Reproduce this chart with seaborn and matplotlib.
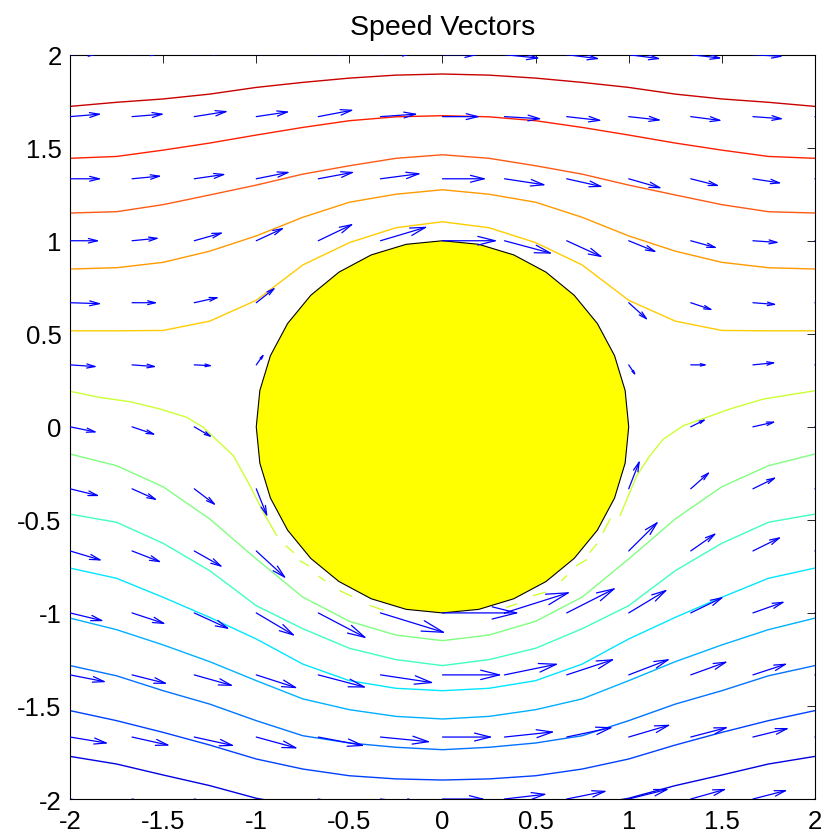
import numpy as np
import pandas as pd
import matplotlib
matplotlib.use("Agg")
import matplotlib.pyplot as plt
import seaborn as sns

nan = np.nan

# ---- streamlines, y read at x = -2 ... 2 (step 0.25) ----
line_x = [-2, -1.75, -1.5, -1.25, -1, -0.75, -0.5, -0.25, 0,
          0.25, 0.5, 0.75, 1, 1.25, 1.5, 1.75, 2]
line_1 = [1.722, 1.744, 1.762, 1.788, 1.824, 1.851, 1.874, 1.890, 1.896,
          1.890, 1.874, 1.851, 1.824, 1.788, 1.762, 1.744, 1.722]
line_2 = [1.443, 1.453, 1.487, 1.525, 1.568, 1.609, 1.645, 1.666, 1.672,
          1.666, 1.645, 1.609, 1.568, 1.525, 1.487, 1.453, 1.443]
line_3 = [1.149, 1.156, 1.194, 1.246, 1.299, 1.358, 1.403, 1.443, 1.462,
          1.443, 1.403, 1.358, 1.299, 1.246, 1.194, 1.156, 1.149]
line_4 = [0.848, 0.855, 0.884, 0.944, 1.026, 1.126, 1.207, 1.250, 1.274,
          1.250, 1.207, 1.126, 1.026, 0.944, 0.884, 0.855, 0.848]
line_5 = [0.516, 0.516, 0.518, 0.568, 0.680, 0.870, 0.990, 1.070, 1.102,
          1.070, 0.990, 0.870, 0.680, 0.568, 0.518, 0.516, 0.516]
line_7 = [-0.146, -0.209, -0.322, -0.495, -0.710, -0.915, -1.045, -1.119, -1.149,
          -1.119, -1.045, -0.915, -0.710, -0.495, -0.322, -0.209, -0.146]
line_8 = [-0.469, -0.513, -0.626, -0.773, -0.961, -1.085, -1.190, -1.251, -1.283,
          -1.251, -1.190, -1.085, -0.961, -0.773, -0.626, -0.513, -0.469]
line_9 = [-0.759, -0.814, -0.916, -1.024, -1.140, -1.275, -1.364, -1.405, -1.418,
          -1.405, -1.364, -1.275, -1.140, -1.024, -0.916, -0.814, -0.759]
line_10 = [-1.028, -1.090, -1.172, -1.262, -1.364, -1.462, -1.520, -1.556, -1.570,
           -1.556, -1.520, -1.462, -1.364, -1.262, -1.172, -1.090, -1.028]
line_11 = [-1.283, -1.338, -1.418, -1.490, -1.579, -1.660, -1.699, -1.722, -1.735,
           -1.722, -1.699, -1.660, -1.579, -1.490, -1.418, -1.338, -1.283]
line_12 = [-1.525, -1.579, -1.642, -1.710, -1.785, -1.839, -1.875, -1.892, -1.898,
           -1.892, -1.875, -1.839, -1.785, -1.710, -1.642, -1.579, -1.525]
line_13 = [-1.771, -1.812, -1.871, -1.928, -1.996, -2.04, -2.08, -2.10, -2.11,
           -2.10, -2.08, -2.04, -1.996, -1.928, -1.871, -1.812, -1.771]

# the streamline that wraps under the cylinder (broken near the body)
line_6_x = [-2.0, -1.839, -1.678, -1.517, -1.373, -1.284, -1.123, -1.034, -0.962, -0.890, nan,
            -0.84, -0.80, nan, -0.765, -0.720, nan, -0.664, -0.631, nan, -0.550, -0.487, nan,
            -0.389, -0.318, nan, 0.345, 0.398, nan, 0.488, 0.550, nan, 0.640, 0.667, nan,
            0.720, 0.774, nan, 0.792, 0.828, nan, 0.863, 0.900, nan,
            0.953, 1.043, 1.114, 1.186, 1.293, 1.544, 1.722, 2.0]
line_6_y = [0.191, 0.158, 0.135, 0.096, 0.051, -0.003, -0.155, -0.316, -0.460, -0.585, nan,
            -0.640, -0.675, nan, -0.720, -0.746, nan, -0.803, -0.827, nan, -0.881, -0.911, nan,
            -0.961, -0.984, nan, -0.970, -0.952, nan, -0.907, -0.889, nan, -0.827, -0.800, nan,
            -0.746, -0.714, nan, -0.674, -0.630, nan, -0.567, -0.495, nan,
            -0.478, -0.263, -0.155, -0.066, 0.006, 0.096, 0.149, 0.194]

line_colors = ["#c80000", "#ff1e00", "#ff5a14", "#ff9900", "#ffcc00", "#ccff33",
               "#80ff80", "#40ffbf", "#00e6ff", "#00b0ff", "#0073ff", "#0040ff", "#0000e0"]

# ---- speed vectors on a 13 x 13 grid (rows from y = 2 down to y = -2) ----
arrow_x = [-2, -1.667, -1.333, -1, -0.667, -0.333, 0, 0.333, 0.667, 1, 1.333, 1.667, 2]
arrow_y = [2, 1.667, 1.333, 1, 0.667, 0.333, 0, -0.333, -0.667, -1, -1.333, -1.667, -2]
arrow_u = [
    [0.145, 0.145, 0.150, 0.155, 0.165, 0.175, 0.180, 0.178, 0.165, 0.160, 0.155, 0.150, 0.145],
    [0.157, 0.161, 0.170, 0.167, 0.179, 0.188, 0.190, 0.188, 0.177, 0.163, 0.156, 0.152, 0.157],
    [0.157, 0.147, 0.158, 0.170, 0.183, 0.206, 0.224, 0.211, 0.183, 0.167, 0.143, 0.142, 0.157],
    [0.147, 0.134, 0.145, 0.140, 0.179, 0.242, 0.283, 0.246, 0.183, 0.140, 0.131, 0.129, 0.147],
    [0.157, 0.125, 0.122, 0.095, nan, nan, nan, nan, nan, 0.095, 0.108, 0.116, 0.157],
    [0.134, 0.120, 0.086, 0.036, nan, nan, nan, nan, nan, 0.032, 0.077, 0.111, 0.134],
    [0.134, 0.116, 0.086, nan, nan, nan, nan, nan, nan, nan, 0.072, 0.111, 0.134],
    [0.147, 0.125, 0.108, 0.056, nan, nan, nan, nan, nan, 0.056, 0.095, 0.116, 0.147],
    [0.161, 0.147, 0.143, 0.152, nan, nan, nan, nan, nan, 0.152, 0.129, 0.142, 0.161],
    [0.170, 0.170, 0.179, 0.199, 0.250, 0.338, 0.398, 0.342, 0.254, 0.199, 0.167, 0.161, 0.170],
    [0.183, 0.179, 0.199, 0.211, 0.247, 0.274, 0.306, 0.278, 0.246, 0.211, 0.188, 0.174, 0.183],
    [0.194, 0.192, 0.205, 0.212, 0.237, 0.257, 0.257, 0.257, 0.237, 0.214, 0.190, 0.183, 0.194],
    [0.190, 0.190, 0.200, 0.205, 0.205, 0.216, 0.216, 0.216, 0.205, 0.205, 0.181, 0.175, 0.190],
]
arrow_v = [
    [0.005, 0.010, 0.015, 0.018, 0.018, 0.010, 0.000, -0.018, -0.021, -0.021, -0.018, -0.009, -0.005],
    [0.013, 0.013, 0.027, 0.025, 0.034, 0.013, 0.000, -0.011, -0.020, -0.018, -0.020, -0.011, -0.013],
    [0.000, 0.014, 0.023, 0.034, 0.034, 0.027, 0.000, -0.032, -0.041, -0.048, -0.036, -0.022, 0.000],
    [0.000, 0.013, 0.041, 0.065, 0.086, 0.072, 0.000, -0.066, -0.084, -0.057, -0.036, -0.009, 0.000],
    [-0.005, 0.000, 0.027, 0.075, nan, nan, nan, nan, nan, -0.086, -0.036, -0.009, 0.005],
    [-0.009, -0.009, -0.004, 0.050, nan, nan, nan, nan, nan, -0.048, 0.000, 0.011, 0.009],
    [-0.027, -0.039, -0.050, nan, nan, nan, nan, nan, nan, nan, 0.036, 0.025, 0.027],
    [-0.036, -0.056, -0.082, -0.140, nan, nan, nan, nan, nan, 0.143, 0.084, 0.057, 0.036],
    [-0.048, -0.057, -0.081, -0.140, nan, nan, nan, nan, nan, 0.151, 0.090, 0.070, 0.048],
    [-0.041, -0.056, -0.082, -0.118, -0.131, -0.104, 0.000, 0.108, 0.129, 0.120, 0.081, 0.057, 0.041],
    [-0.036, -0.045, -0.056, -0.068, -0.065, -0.041, 0.000, 0.057, 0.081, 0.081, 0.068, 0.057, 0.036],
    [-0.032, -0.043, -0.045, -0.058, -0.045, -0.025, 0.000, 0.027, 0.050, 0.063, 0.050, 0.045, 0.032],
    [-0.032, -0.040, -0.045, -0.050, -0.041, -0.025, 0.000, 0.025, 0.041, 0.051, 0.051, 0.045, 0.032],
]

cylinder_radius = 1.0
tick_values = [-2, -1.5, -1, -0.5, 0, 0.5, 1, 1.5, 2]
tick_labels = ["-2", "-1.5", "-1", "-0.5", "0", "0.5", "1", "1.5", "2"]

# ---- long-form table for seaborn ----
rows = []
seg = 0
full_lines = [line_1, line_2, line_3, line_4, line_5, None, line_7, line_8,
              line_9, line_10, line_11, line_12, line_13]
for k, ys in enumerate(full_lines):
    name = f"L{k + 1}"
    if ys is None:
        for xv, yv in zip(line_6_x, line_6_y):
            if np.isnan(xv):
                seg += 1
                continue
            rows.append((xv, yv, name, seg))
    else:
        for xv, yv in zip(line_x, ys):
            rows.append((xv, yv, name, seg))
    seg += 1
df = pd.DataFrame(rows, columns=["x", "y", "level", "seg"])
palette = {f"L{k + 1}": c for k, c in enumerate(line_colors)}

sns.set_theme(style="white")
plt.rcParams["font.family"] = ["Liberation Sans", "DejaVu Sans"]

fig = plt.figure(figsize=(8.24, 8.37), dpi=100)
ax = fig.add_axes([0.085, 0.0442, 0.904, 0.8893])

sns.lineplot(data=df, x="x", y="y", hue="level", units="seg", estimator=None,
             sort=False, palette=palette, legend=False, linewidth=1.0, ax=ax, zorder=2)

# cylinder
theta = np.linspace(0, 2 * np.pi, 33)
ax.fill(cylinder_radius * np.cos(theta), cylinder_radius * np.sin(theta),
        facecolor="#ffff00", edgecolor="black", linewidth=0.8, zorder=3)

# speed vectors (open arrowheads, MATLAB quiver style)
X, Y = np.meshgrid(np.array(arrow_x), np.array(arrow_y))
U = np.array(arrow_u)
V = np.array(arrow_v)
ok = ~np.isnan(U)
x0, y0, u, v = X[ok], Y[ok], U[ok], V[ok]
x1, y1 = x0 + u, y0 + v
a, b = 0.33, 0.25
gap = np.full_like(x0, nan)
shaft_x = np.column_stack([x0, x1, gap]).ravel()
shaft_y = np.column_stack([y0, y1, gap]).ravel()
head_x = np.column_stack([x1 - a * (u + b * v), x1, x1 - a * (u - b * v), gap]).ravel()
head_y = np.column_stack([y1 - a * (v - b * u), y1, y1 - a * (v + b * u), gap]).ravel()
ax.plot(shaft_x, shaft_y, color="#0000ff", linewidth=0.9, zorder=4)
ax.plot(head_x, head_y, color="#0000ff", linewidth=0.9, zorder=4)

ax.set_xlim(-2, 2)
ax.set_ylim(-2, 2)
ax.set_xticks(tick_values)
ax.set_xticklabels(tick_labels)
ax.set_yticks(tick_values)
ax.set_yticklabels(tick_labels)
ax.set_xlabel("")
ax.set_ylabel("")
ax.tick_params(direction="in", length=6, width=0.6, top=True, right=True,
               labelsize=18.5, colors="black")
ax.tick_params(axis="x", pad=7)
ax.tick_params(axis="y", pad=6)
for sp in ax.spines.values():
    sp.set_color("black")
    sp.set_linewidth(0.8)
ax.set_title("Speed Vectors", fontsize=20.5, pad=15, color="black")

fig.savefig("out.png", dpi=100)
